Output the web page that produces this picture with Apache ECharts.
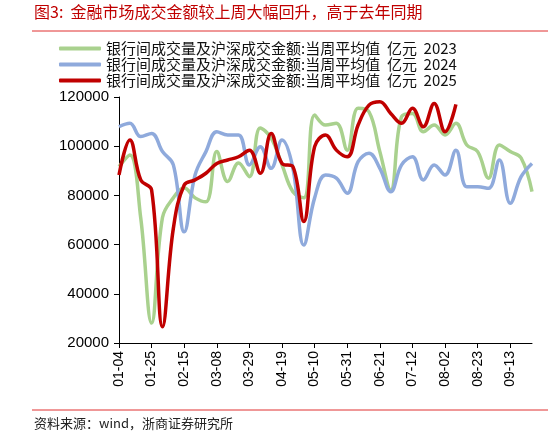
<!DOCTYPE html>
<html><head><meta charset="utf-8">
<script src="https://cdn.jsdelivr.net/npm/echarts@6/dist/echarts.min.js"></script>
<style>html,body{margin:0;padding:0;background:#fff}#c{width:548px;height:441px}</style>
</head><body><div id="c"></div>
<script>
const categories = (function(){const out=[];const d=new Date(2025,0,4);for(let i=0;i<39;i++){const t=new Date(d.getTime()+i*7*86400000);out.push(String(t.getMonth()+1).padStart(2,'0')+'-'+String(t.getDate()).padStart(2,'0'));}return out;})();
const s2023 = [91700,96400,70800,28100,71000,79000,83000,79000,77400,97800,85600,93200,87600,107400,103300,92400,81500,79000,112700,108600,109300,98400,115400,114000,97800,82200,112000,113300,105900,108600,104600,109300,100500,97800,87000,100500,97800,95200,81500];
const s2024 = [107900,109300,103900,105200,97800,92400,65200,88300,97800,105900,104600,104600,92400,99800,91000,102500,91000,59800,79000,88300,87000,80900,93700,97100,91000,81500,92400,95700,86300,92400,88300,98400,83500,83500,82900,94400,76800,87600,93000];
const s2025 = [88300,102500,86300,82200,26600,66600,84200,86300,89000,93000,94400,95700,98400,89000,105200,93000,91700,69400,99800,104600,98400,95700,108600,116700,118100,113300,109300,115400,107900,117400,105900,117000];
const names = ['银行间成交量及沪深成交金额:当周平均值  亿元  2023','银行间成交量及沪深成交金额:当周平均值  亿元  2024','银行间成交量及沪深成交金额:当周平均值  亿元  2025'];
const yTicks = [20000,40000,60000,80000,100000,120000];
const font = '"Noto Sans CJK SC", sans-serif';
const chart = echarts.init(document.getElementById('c'));
const mk = (n,d,c,w)=>({name:n,type:'line',data:d,smooth:0.4,symbol:'none',lineStyle:{color:c,width:w},itemStyle:{color:c}});
chart.setOption({
  animation:false,
  graphic:[
    {type:'text',left:34,top:4,style:{text:'图3:  金融市场成交金额较上周大幅回升，高于去年同期',fill:'#c00000',font:'16px '+font}},
    {type:'line',shape:{x1:32,y1:31,x2:548,y2:31},style:{stroke:'#e03030',lineWidth:1}},
    {type:'line',shape:{x1:32,y1:410,x2:548,y2:410},style:{stroke:'#e03030',lineWidth:1}},
    {type:'text',left:34,top:417,style:{text:'资料来源：wind，浙商证券研究所',fill:'#222',font:'13px '+font}}
  ],
  legend:{orient:'vertical',left:54,top:36,itemGap:1,itemWidth:42,itemHeight:4,icon:'roundRect',
    textStyle:{fontFamily:font,fontSize:15,color:'#111'},data:names},
  grid:{left:119,right:16,top:97,bottom:98},
  xAxis:{type:'category',data:categories,boundaryGap:false,
    axisLine:{lineStyle:{color:'#000'}},
    axisTick:{show:true,interval:2,inside:false,lineStyle:{color:'#000'}},
    axisLabel:{interval:2,rotate:90,color:'#000',fontSize:14,fontFamily:'"Liberation Sans", sans-serif',margin:8}},
  yAxis:{type:'value',min:20000,max:120000,interval:20000,
    axisLine:{show:true,lineStyle:{color:'#000'}},axisTick:{show:true,lineStyle:{color:'#000'}},
    splitLine:{show:false},
    axisLabel:{color:'#000',fontSize:15,fontFamily:'"Liberation Sans", sans-serif',margin:10,
      formatter:v=>yTicks.includes(v)?String(v):''}},
  series:[mk(names[0],s2023,'#a9d18e',3.5),mk(names[1],s2024,'#8faadc',3.5),mk(names[2],s2025,'#c00000',3.5)]
});
</script></body></html>
